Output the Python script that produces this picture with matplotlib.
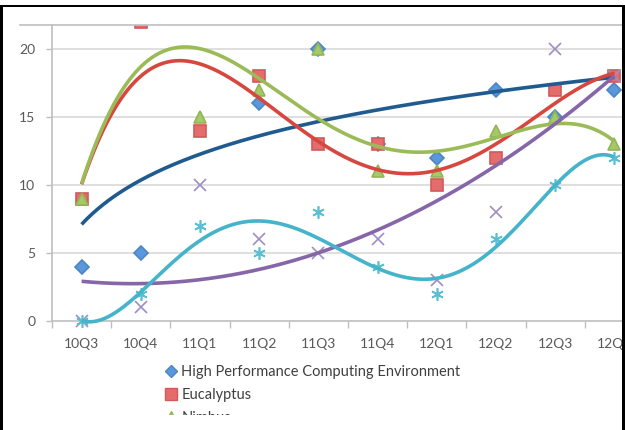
import numpy as np
import matplotlib
matplotlib.use("Agg")
import matplotlib.pyplot as plt
from matplotlib.lines import Line2D
from matplotlib.patches import Rectangle

# quarters on the category axis
quarters = ["10Q3", "10Q4", "11Q1", "11Q2", "11Q3", "11Q4", "12Q1", "12Q2", "12Q3", "12Q4"]

# values (points hidden behind others or above the top are estimates)
hpc = [4, 5, 23, 16, 20, 13, 12, 17, 15, 17]
eucalyptus = [9, 22, 14, 18, 13, 13, 10, 12, 17, 18]
nimbus = [9, 23, 15, 17, 20, 11, 11, 14, 15, 13]
series4 = [0, 1, 10, 6, 5, 6, 3, 8, 20, 18]
series5 = [0, 2, 7, 5, 8, 4, 2, 6, 10, 12]

legend_labels = ["High Performance Computing Environment", "Eucalyptus", "Nimbus"]

W, H = 625, 430
fig = plt.figure(figsize=(6.25, 4.3), dpi=100)
fig.patch.set_facecolor("white")
plt.rcParams["font.family"] = ["Lato", "DejaVu Sans"]

ax = fig.add_axes([52 / W, (H - 321) / H, 592 / W, 296 / H])
ax.set_xlim(-0.5, 9.5)
ax.set_ylim(0, 296 / 13.6)

grid_c = "#d9d9d9"
axis_c = "#bfbfbf"
for v in [5, 10, 15, 20]:
    ax.axhline(v, color=grid_c, lw=1.2, zorder=0)
for s in ["top", "right"]:
    ax.spines[s].set_visible(False)
for s in ["left", "bottom"]:
    ax.spines[s].set_color(axis_c)
    ax.spines[s].set_linewidth(1.2)

ax.set_yticks([0, 5, 10, 15, 20])
ax.tick_params(axis="y", colors=axis_c, length=4, width=1, pad=8, labelsize=10, labelcolor="#595959")
ax.set_xticks(range(len(quarters)))
ax.set_xticklabels(quarters)
ax.set_xticks(np.arange(-0.5, 10, 1), minor=True)
ax.tick_params(axis="x", which="major", length=0, pad=12, labelsize=10, labelcolor="#595959")
ax.tick_params(axis="x", which="minor", length=5, width=1, colors=axis_c)

# clip region: open below the axis, closed at the top
clip = Rectangle((0, -0.1), 1, 1.1, transform=ax.transAxes, visible=False)
ax.add_patch(clip)

x = np.arange(len(quarters))
styles = [
    (hpc, "D", "#5b97d9", "#4a86c8", 7),
    (eucalyptus, "s", "#e46c6c", "#d05a5a", 8),
    (nimbus, "^", "#a5c969", "#93b556", 8.5),
    (series4, "x", "#9d8ec4", "#9d8ec4", 8),
    (series5, (6, 2, 0), "#5bbfd4", "#5bbfd4", 9),
]
for vals, mk, fc, ec, ms in styles:
    (pts,) = ax.plot(x, vals, ls="none", marker=mk, ms=ms, mfc=fc, mec=ec, mew=1.2, zorder=3)
    pts.set_clip_path(clip)

# trendlines, fitted to the points the way the spreadsheet does
xs = np.linspace(0, 9, 300)
a_log = np.polyfit(np.log(x + 1), hpc, 1)
trends = [
    (np.polyval(a_log, np.log(xs + 1)), "#1f5b8e"),
    (np.polyval(np.polyfit(x, eucalyptus, 4), xs), "#d6483f"),
    (np.polyval(np.polyfit(x, nimbus, 4), xs), "#9bbb59"),
    (np.polyval(np.polyfit(x, series4, 2), xs), "#8566a8"),
    (np.polyval(np.polyfit(x, series5, 5), xs), "#45b3c9"),
]
for ys, c in trends:
    (ln,) = ax.plot(xs, ys, color=c, lw=2.6, zorder=4, solid_capstyle="butt")
    ln.set_clip_path(clip)

# legend below the plot (the screenshot only shows the first three rows)
handles = [
    Line2D([], [], ls="none", marker="D", ms=6, mfc="#5b97d9", mec="#4a86c8"),
    Line2D([], [], ls="none", marker="s", ms=8, mfc="#e46c6c", mec="#d05a5a"),
    Line2D([], [], ls="none", marker="^", ms=8, mfc="#a5c969", mec="#93b556"),
]
fig.legend(handles, legend_labels, loc="upper left", bbox_to_anchor=(158 / W, 1 - 358 / H),
           frameon=False, fontsize=10.5, handlelength=0.8, handletextpad=0.3,
           labelspacing=0.6, borderpad=0, labelcolor="#404040")

# the screenshot is cut off just under the third legend row
fig.add_artist(Rectangle((0, 0), 1, 15 / H, transform=fig.transFigure, fc="white", ec="none", zorder=10))

# thin gray line along the top of the plot area
fig.add_artist(Line2D([20 / W, 622 / W], [1 - 25 / H] * 2, transform=fig.transFigure, color=axis_c, lw=1.2, zorder=2))

# black screenshot frame
frame_kw = dict(transform=fig.transFigure, fc="black", ec="none", zorder=11)
fig.add_artist(Rectangle((0, 0), 3 / W, 1 - 5 / H, **frame_kw))
fig.add_artist(Rectangle((0, 1 - 7 / H), 1, 2 / H, **frame_kw))
fig.add_artist(Rectangle((622 / W, 0), 3 / W, 1 - 5 / H, **frame_kw))

fig.savefig("out.png", dpi=100)
